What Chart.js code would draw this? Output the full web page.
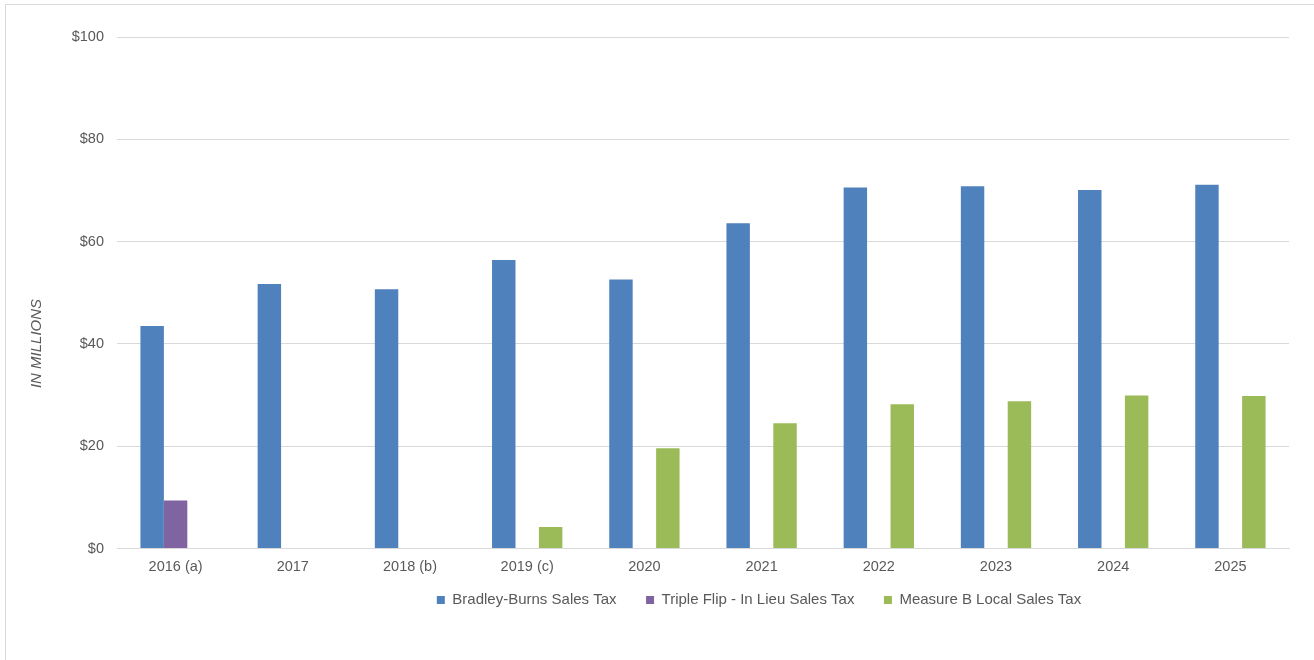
<!DOCTYPE html>
<html>
<head>
<meta charset="utf-8">
<script src="https://cdn.jsdelivr.net/npm/chart.js@4.4.0/dist/chart.umd.min.js"></script>
<style>
  html, body { margin: 0; padding: 0; background: #fff; }
  #frame {
    position: absolute; left: 5px; top: 4px; width: 1320px; height: 700px;
    border-left: 1px solid #d9d9d9; border-top: 1px solid #d9d9d9;
  }
  #wrap { position: absolute; left: 0; top: 0; width: 1314px; height: 660px; }
</style>
</head>
<body>
<div id="frame"></div>
<div id="wrap"><canvas id="taxChart"></canvas></div>
<script>
"use strict";

var years = ['2016 (a)', '2017', '2018 (b)', '2019 (c)', '2020', '2021', '2022', '2023', '2024', '2025'];
var bradleyBurns = [43.5, 51.7, 50.7, 56.4, 52.6, 63.6, 70.6, 70.8, 70.1, 71.1];
var tripleFlip = [9.4, null, null, null, null, null, null, null, null, null];
var measureB = [null, null, null, 4.2, 19.6, 24.5, 28.2, 28.8, 29.9, 29.8];
var yTicks = [0, 20, 40, 60, 80, 100];
var yTitle = 'IN MILLIONS';

var textColor = '#595959';
var gridColor = '#d9d9d9';

Chart.defaults.font.family = "'Liberation Sans', Arial, sans-serif";
Chart.defaults.font.size = 14.5;
Chart.defaults.color = textColor;

// Excel puts the legend right of centre and snug under the labels
var legendShift = {
    id: 'legendShift',
    afterLayout: function (chart) {
        var lg = chart.legend;
        lg.left += 100;
        lg.right += 100;
        lg.top -= 15.5;
        lg.bottom -= 15.5;
    }
};

// axis title sits lower than the middle of the plot in the original
var yTitlePlugin = {
    id: 'yTitle',
    afterDraw: function (chart) {
        var ctx = chart.ctx;
        var area = chart.chartArea;
        ctx.save();
        ctx.translate(37, area.bottom - 205);
        ctx.rotate(-Math.PI / 2);
        ctx.font = "italic 15px 'Liberation Sans', Arial, sans-serif";
        ctx.fillStyle = textColor;
        ctx.textAlign = 'center';
        ctx.textBaseline = 'middle';
        ctx.fillText(yTitle, 0, 0);
        ctx.restore();
    }
};

function makeDataset(label, values, color) {
    return {
        label: label,
        data: values,
        backgroundColor: color,
        borderWidth: 0,
        categoryPercentage: 0.6,
        barPercentage: 1.0
    };
}

var taxChart = new Chart(document.getElementById('taxChart'), {
    type: 'bar',
    data: {
        labels: years,
        datasets: [
            makeDataset('Bradley-Burns Sales Tax', bradleyBurns, '#4f81bd'),
            makeDataset('Triple Flip - In Lieu Sales Tax', tripleFlip, '#8064a2'),
            makeDataset('Measure B Local Sales Tax', measureB, '#9bbb59')
        ]
    },
    options: {
        responsive: true,
        maintainAspectRatio: false,
        animation: false,
        layout: { padding: { left: 29, top: 37, right: 25, bottom: 27 } },
        plugins: {
            tooltip: { enabled: false },
            legend: {
                position: 'bottom',
                labels: {
                    boxWidth: 8,
                    boxHeight: 8,
                    padding: 29.5,
                    color: textColor,
                    font: { size: 15 }
                }
            }
        },
        scales: {
            x: {
                grid: { display: false, drawTicks: false },
                border: { display: true, color: gridColor },
                ticks: { padding: 10, color: textColor, maxRotation: 0 },
                afterFit: function (scale) { scale.height = 30; }
            },
            y: {
                min: 0,
                max: 100,
                afterBuildTicks: function (scale) {
                    scale.ticks = yTicks.map(function (v) { return { value: v }; });
                },
                grid: { color: gridColor, drawTicks: false },
                border: { display: false },
                ticks: {
                    padding: 13,
                    color: textColor,
                    callback: function (v) { return '$' + v; }
                },
                afterFit: function (scale) { scale.width = 88; }
            }
        }
    },
    plugins: [legendShift, yTitlePlugin]
});
</script>
</body>
</html>
